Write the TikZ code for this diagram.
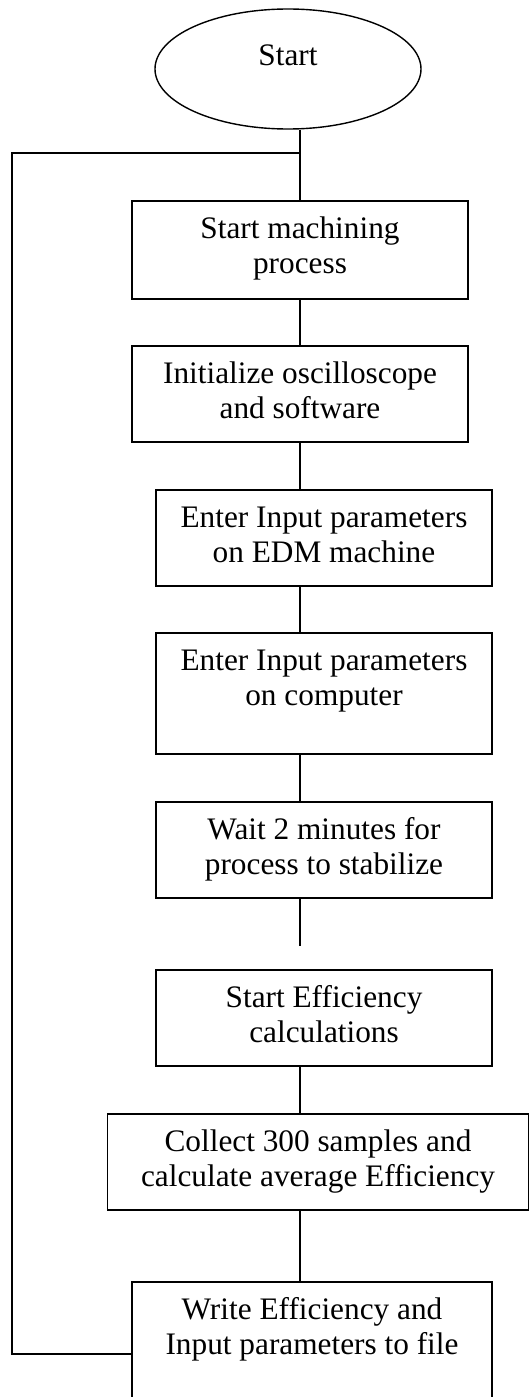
\documentclass[tikz,border=0pt]{standalone}
\usepackage{fontspec}
\setmainfont{Liberation Serif}
\usetikzlibrary{shapes.geometric}
\begin{document}
\begin{tikzpicture}[x=1pt, y=-1pt, line width=1.4pt,
  procbox/.style={draw, rectangle, inner sep=0pt},
  terminal/.style={draw, ellipse, inner sep=0pt, minimum width=266pt, minimum height=120pt},
  txt/.style={align=center, inner sep=0pt, font=\fontsize{31.3}{35}\selectfont}]
  % page frame
  \clip (0,0) rectangle (530,1397);

  % terminal
  \node[terminal] (st) at (288,69) {};
  \node[txt, anchor=base] (stl) at (288,66) {Start};

  % process boxes (centre, width, height)
  \node[procbox, minimum width=336pt, minimum height=98pt]  (b1) at (300,250)   {};
  \node[procbox, minimum width=336pt, minimum height=96pt]  (b2) at (300,394)   {};
  \node[procbox, minimum width=336pt, minimum height=96pt]  (b3) at (324,538)   {};
  \node[procbox, minimum width=336pt, minimum height=121pt] (b4) at (324,693.5) {};
  \node[procbox, minimum width=336pt, minimum height=96pt]  (b5) at (324,850)   {};
  \node[procbox, minimum width=336pt, minimum height=96pt]  (b6) at (324,1018)  {};
  \node[procbox, minimum width=421pt, minimum height=96pt]  (b7) at (318,1162)  {};
  \node[procbox, minimum width=360pt, minimum height=144pt] (b8) at (312,1354)  {};

  % box texts, set in the upper part of each box
  \node[txt] (b1t) at ([yshift=-48.5pt]b1.north) {\strut Start machining\\\strut process};
  \node[txt] (b2t) at ([yshift=-48.5pt]b2.north) {\strut Initialize oscilloscope\\\strut and software};
  \node[txt] (b3t) at ([yshift=-48.5pt]b3.north) {\strut Enter Input parameters\\\strut on EDM machine};
  \node[txt] (b4t) at ([yshift=-48.5pt]b4.north) {\strut Enter Input parameters\\\strut on computer};
  \node[txt] (b5t) at ([yshift=-48.5pt]b5.north) {\strut Wait 2 minutes for\\\strut process to stabilize};
  \node[txt] (b6t) at ([yshift=-48.5pt]b6.north) {\strut Start Efficiency\\\strut calculations};
  \node[txt] (b7t) at ([yshift=-48.5pt]b7.north) {\strut Collect 300 samples and\\\strut calculate average Efficiency};
  \node[txt] (b8t) at ([yshift=-48.5pt]b8.north) {\strut Write Efficiency and\\\strut Input parameters to file};

  % connector guides
  \coordinate (spine) at (300,0);
  \coordinate (join) at (300,153);
  \coordinate (loopx) at (12,0);
  \coordinate (gapend) at (300,946);

  % main flow
  \draw (st.south -| spine) -- (b1.north -| spine);
  \draw (b1.south -| spine) -- (b2.north -| spine);
  \draw (b2.south -| spine) -- (b3.north -| spine);
  \draw (b3.south -| spine) -- (b4.north -| spine);
  \draw (b4.south -| spine) -- (b5.north -| spine);
  \draw (b5.south -| spine) -- (gapend);
  \draw (b6.south -| spine) -- (b7.north -| spine);
  \draw (b7.south -| spine) -- (b8.north -| spine);

  % return loop
  \draw (b8.west) -- (b8.west -| loopx) |- (join);
\end{tikzpicture}
\end{document}
